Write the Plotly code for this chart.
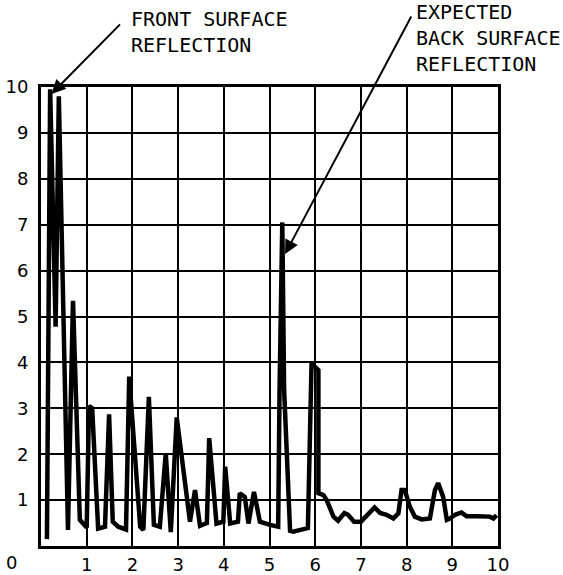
import plotly.graph_objects as go

# Signal trace
x_vals = [0.13, 0.20, 0.32, 0.39, 0.59, 0.70, 0.85, 0.96, 1.00, 1.05, 1.12, 1.25, 1.40, 1.49,
          1.57, 1.69, 1.86, 1.93, 2.17, 2.24, 2.36, 2.47, 2.60, 2.73, 2.84, 2.97, 3.26, 3.37,
          3.48, 3.63, 3.68, 3.84, 3.99, 4.03, 4.14, 4.31, 4.35, 4.46, 4.54, 4.66, 4.79, 5.01,
          5.19, 5.22, 5.28, 5.32, 5.45, 5.52, 5.84, 5.92, 6.07, 6.07, 6.18, 6.25, 6.40, 6.50,
          6.64, 6.72, 6.85, 7.00, 7.14, 7.30, 7.42, 7.56, 7.71, 7.82, 7.89, 7.96, 8.07, 8.18,
          8.33, 8.51, 8.62, 8.69, 8.80, 8.88, 8.95, 9.06, 9.20, 9.31, 9.53, 9.82, 9.90, 9.97]
y_vals = [0.15, 9.95, 4.78, 9.80, 0.35, 5.34, 0.57, 0.42, 0.40, 3.05, 3.00, 0.38, 0.42, 2.87,
          0.53, 0.42, 0.36, 3.69, 0.42, 0.35, 3.25, 0.46, 0.42, 2.02, 0.30, 2.80, 0.53, 1.22,
          0.44, 0.50, 2.35, 0.49, 0.53, 1.73, 0.49, 0.53, 1.15, 1.07, 0.49, 1.18, 0.53, 0.46,
          0.42, 3.40, 7.05, 3.40, 0.33, 0.31, 0.39, 3.98, 3.83, 1.15, 1.11, 1.00, 0.64, 0.55,
          0.72, 0.68, 0.53, 0.53, 0.68, 0.84, 0.72, 0.68, 0.60, 0.71, 1.22, 1.22, 0.86, 0.64,
          0.58, 0.60, 1.22, 1.37, 1.07, 0.57, 0.60, 0.68, 0.73, 0.65, 0.65, 0.64, 0.60, 0.67]

tick_vals = [1, 2, 3, 4, 5, 6, 7, 8, 9, 10]
tick_text = ["1", "2", "3", "4", "5", "6", "7", "8", "9", "10"]

label_front = "FRONT SURFACE<br>REFLECTION"
label_back = "EXPECTED<br>BACK SURFACE<br>REFLECTION"

fig = go.Figure()
fig.add_trace(go.Scatter(x=x_vals, y=y_vals, mode="lines",
                         line=dict(color="black", width=4.5),
                         showlegend=False, hoverinfo="skip"))

axis_common = dict(range=[0, 10], tickvals=tick_vals, ticktext=tick_text,
                   showgrid=True, gridcolor="black", gridwidth=1.8, automargin=False,
                   zeroline=False, showline=True, linecolor="black", linewidth=3,
                   mirror=True, ticks="", tickfont=dict(family="DejaVu Sans", size=18, color="black"))

fig.update_xaxes(**axis_common, ticklabelstandoff=0)
fig.update_yaxes(**axis_common, ticklabelstandoff=6)

mono = dict(family="DejaVu Sans Mono", size=20, color="black")

fig.add_annotation(x=0.23, y=9.85, xref="x", yref="y", text="", showarrow=True,
                   ax=70, ay=-71, arrowhead=2, arrowsize=1.4, arrowwidth=2, arrowcolor="black")
fig.add_annotation(x=5.34, y=6.36, xref="x", yref="y", text="", showarrow=True,
                   ax=127, ay=-239, arrowhead=2, arrowsize=1.4, arrowwidth=2, arrowcolor="black")

fig.add_annotation(x=0.1926, y=1.1204, xref="paper", yref="paper", text=label_front, showarrow=False,
                   xanchor="left", yanchor="middle", align="left", font=mono)
fig.add_annotation(x=0.817, y=1.1078, xref="paper", yref="paper", text=label_back, showarrow=False,
                   xanchor="left", yanchor="middle", align="left", font=mono)
fig.add_annotation(x=-0.0641, y=-0.037, xref="paper", yref="paper", text="0", showarrow=False,
                   xanchor="center", yanchor="middle",
                   font=dict(family="DejaVu Sans", size=18, color="black"))

fig.update_layout(width=563, height=575, margin=dict(l=41, r=65, t=87, b=29, autoexpand=False),
                  paper_bgcolor="white", plot_bgcolor="white")

fig.write_html("out.html", config={"displayModeBar": False},
               post_script="document.body.style.margin='0';")
